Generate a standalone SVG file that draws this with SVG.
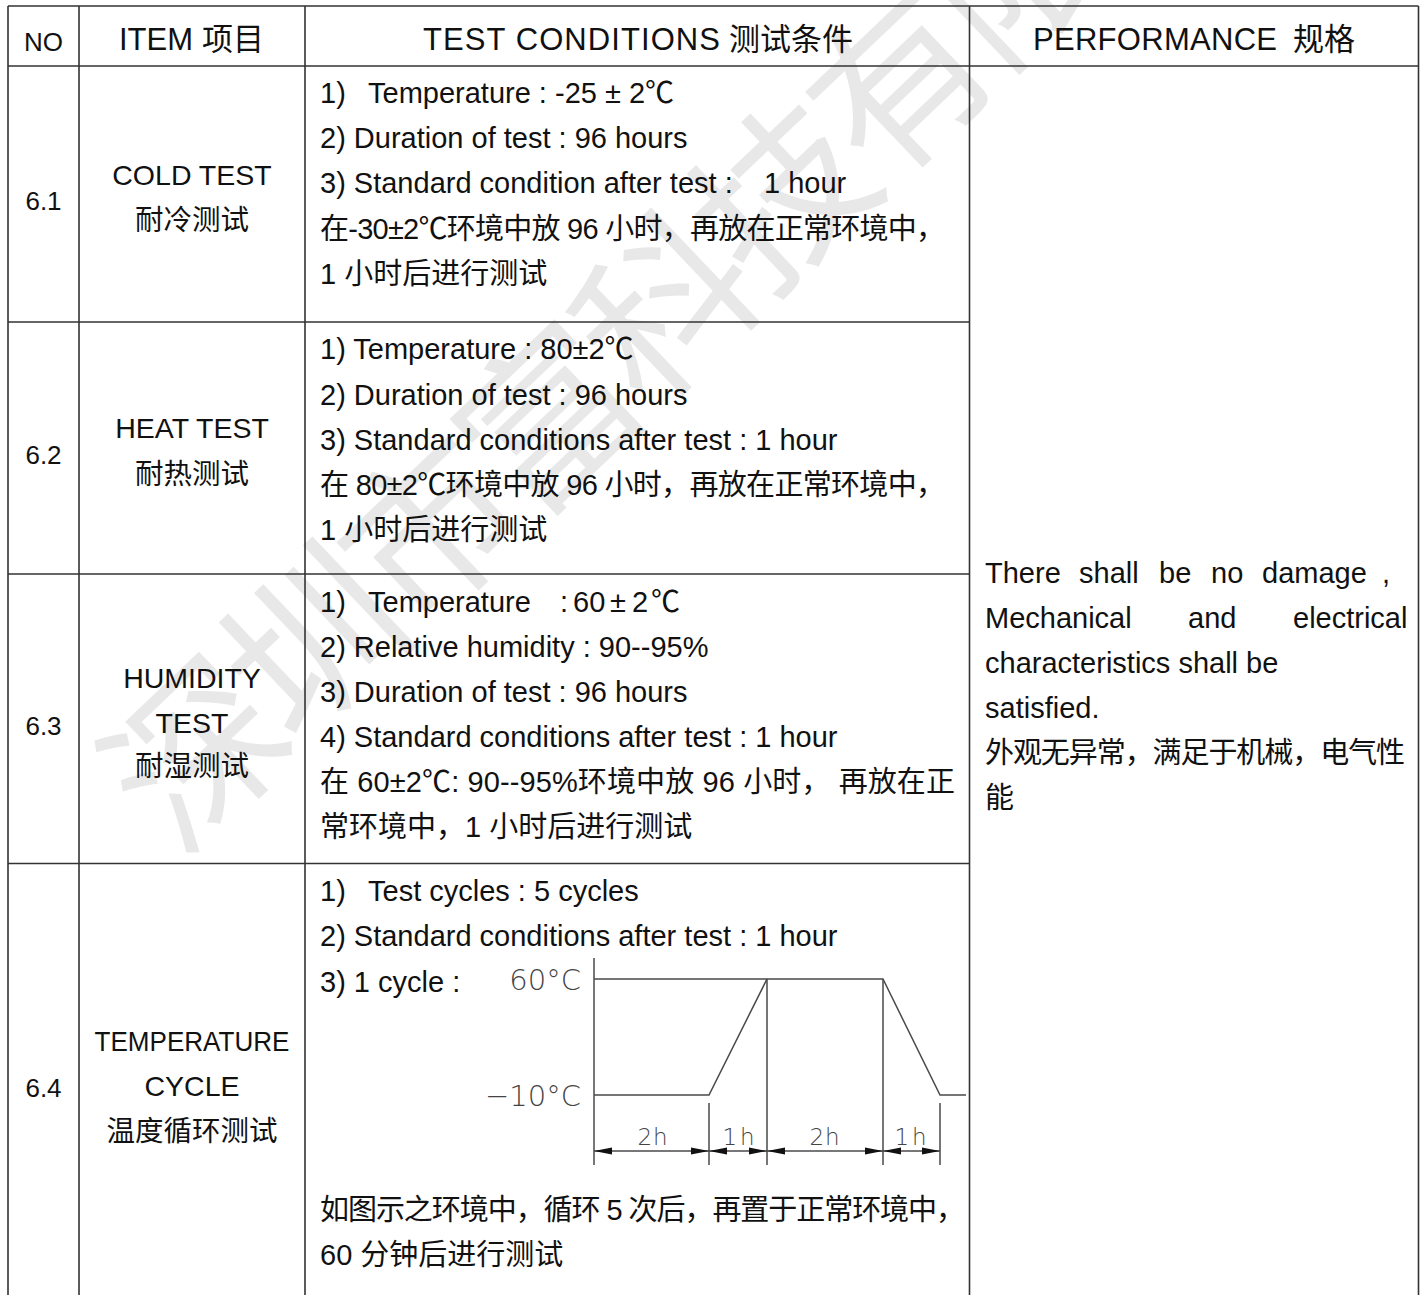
<svg xmlns="http://www.w3.org/2000/svg" width="1420" height="1295" viewBox="0 0 1420 1295">
<defs>
<style>
.t{font-family:"Liberation Sans","Noto Sans CJK SC",sans-serif;font-size:29px;fill:#111}
.h{font-size:31px}
.n{font-size:26px;text-anchor:middle}
.it{font-size:28.5px;text-anchor:middle}
.grid{stroke:#333;stroke-width:1.6;fill:none}
.ch{stroke:#4a4a4a;stroke-width:1.5;fill:none}
.dim{stroke:#4a4a4a;stroke-width:1.3;fill:none;marker-start:url(#ah);marker-end:url(#ah)}
.cl{font-family:"DejaVu Sans","Liberation Sans",sans-serif;font-weight:200;fill:#444}
.wm{font-family:"Noto Sans CJK SC",sans-serif;font-size:172px;letter-spacing:-10px;fill:#e8e8e8}
</style>
<marker id="ah" markerUnits="userSpaceOnUse" markerWidth="18" markerHeight="8" refX="18" refY="4" orient="auto-start-reverse" viewBox="0 0 18 8"><path d="M0,0.6 L18,4 L0,7.4 z" fill="#111"/></marker>
</defs>
<rect width="1420" height="1295" fill="#fff"/>
<g id="watermark">
<text class="wm" transform="translate(195,752) rotate(-43.6)" x="-86" y="65">深圳市富科技有限</text>
</g>
<g id="grid" class="grid">
<path d="M8,6 V1295 M79,6 V1295 M305,6 V1295 M969.5,6 V1295 M1418.5,6 V1295"/>
<path d="M8,6 H1418.5 M8,66 H1418.5 M8,322 H969.5 M8,574 H969.5 M8,863.5 H969.5"/>
</g>
<g id="header" class="t h">
<text class="n" x="43.5" y="51">NO</text>
<text x="119" y="50">ITEM</text><text x="202" y="50">项目</text>
<text x="423" y="50" textLength="297" lengthAdjust="spacing">TEST CONDITIONS</text><text x="729" y="50">测试条件</text>
<text x="1033" y="50" textLength="244" lengthAdjust="spacing">PERFORMANCE</text><text x="1293" y="50">规格</text>
</g>
<g id="row-6-1" class="t">
<text class="n" x="43.5" y="210">6.1</text>
<text class="it" x="192" y="185">COLD TEST</text>
<text class="it" x="192" y="230">耐冷测试</text>
<text x="320" y="103">1)</text><text x="368" y="103">Temperature : -25</text><text x="605" y="103">±</text><text x="629" y="103">2</text><text x="645" y="103">℃</text>
<text x="320" y="148">2) Duration of test : 96 hours</text>
<text x="320" y="193">3) Standard condition after test :</text><text x="764" y="193">1 hour</text>
<text x="320" y="239" textLength="625" lengthAdjust="spacing">在-30±2℃环境中放 96 小时，再放在正常环境中，</text>
<text x="320" y="284">1 小时后进行测试</text>
</g>
<g id="row-6-2" class="t">
<text class="n" x="43.5" y="464">6.2</text>
<text class="it" x="192" y="438">HEAT TEST</text>
<text class="it" x="192" y="484">耐热测试</text>
<text x="320" y="359">1) Temperature : 80±2℃</text>
<text x="320" y="405">2) Duration of test : 96 hours</text>
<text x="320" y="450">3) Standard conditions after test : 1 hour</text>
<text x="320" y="495" textLength="625" lengthAdjust="spacing">在 80±2℃环境中放 96 小时，再放在正常环境中，</text>
<text x="320" y="540">1 小时后进行测试</text>
</g>
<g id="row-6-3" class="t">
<text class="n" x="43.5" y="735">6.3</text>
<text class="it" x="192" y="688">HUMIDITY</text>
<text class="it" x="192" y="733">TEST</text>
<text class="it" x="192" y="776">耐湿测试</text>
<text x="320" y="612">1)</text><text x="368" y="612">Temperature</text><text x="560" y="612">:</text><text x="573" y="612">60</text><text x="610" y="612">±</text><text x="632" y="612">2</text><text x="651" y="612">℃</text>
<text x="320" y="657">2) Relative humidity : 90--95%</text>
<text x="320" y="702">3) Duration of test : 96 hours</text>
<text x="320" y="747">4) Standard conditions after test : 1 hour</text>
<text x="320" y="792" textLength="635" lengthAdjust="spacing">在 60±2℃: 90--95%环境中放 96 小时， 再放在正</text>
<text x="320" y="837">常环境中，1 小时后进行测试</text>
</g>
<g id="row-6-4" class="t">
<text class="n" x="43.5" y="1097">6.4</text>
<text class="it" x="192" y="1051" textLength="195" lengthAdjust="spacingAndGlyphs">TEMPERATURE</text>
<text class="it" x="192" y="1096">CYCLE</text>
<text class="it" x="192" y="1141">温度循环测试</text>
<text x="320" y="901">1)</text><text x="368" y="901">Test cycles : 5 cycles</text>
<text x="320" y="946">2) Standard conditions after test : 1 hour</text>
<text x="320" y="992">3) 1 cycle :</text>
<text x="320" y="1220" textLength="645" lengthAdjust="spacing">如图示之环境中，循环 5 次后，再置于正常环境中，</text>
<text x="320" y="1265">60 分钟后进行测试</text>
</g>
<g id="performance" class="t">
<text y="583"><tspan x="985">There</tspan><tspan x="1079">shall</tspan><tspan x="1159">be</tspan><tspan x="1211">no</tspan><tspan x="1262">damage</tspan><tspan x="1382">,</tspan></text>
<text y="628"><tspan x="985">Mechanical</tspan><tspan x="1188">and</tspan><tspan x="1293">electrical</tspan></text>
<text x="985" y="673">characteristics shall be</text>
<text x="985" y="718">satisfied.</text>
<text x="985" y="763" textLength="420" lengthAdjust="spacing">外观无异常，满足于机械，电气性</text>
<text x="985" y="808">能</text>
</g>
<g id="chart">
<g id="chart-lines" class="ch">
<path d="M594,958 V1165"/>
<path d="M594,979 H767 M594,1095 H709 L767,979 H883 L940,1095 H966"/>
<path d="M709,1103 V1165 M767,979 V1165 M883,979 V1165 M940,1103 V1165"/>
</g>
<g id="connectors">
<path class="dim" d="M594,1151 H709"/>
<path class="dim" d="M709,1151 H767"/>
<path class="dim" d="M767,1151 H883"/>
<path class="dim" d="M883,1151 H940"/>
</g>
<g id="chart-labels" class="cl">
<text x="581" y="990" font-size="29" text-anchor="end">60°C</text>
<text x="581" y="1106" font-size="29" text-anchor="end">−10°C</text>
<text x="653" y="1145" font-size="23" text-anchor="middle" letter-spacing="1">2h</text>
<text x="740" y="1145" font-size="23" text-anchor="middle" letter-spacing="3">1h</text>
<text x="825" y="1145" font-size="23" text-anchor="middle" letter-spacing="1">2h</text>
<text x="912" y="1145" font-size="23" text-anchor="middle" letter-spacing="3">1h</text>
</g>
</g>
</svg>
